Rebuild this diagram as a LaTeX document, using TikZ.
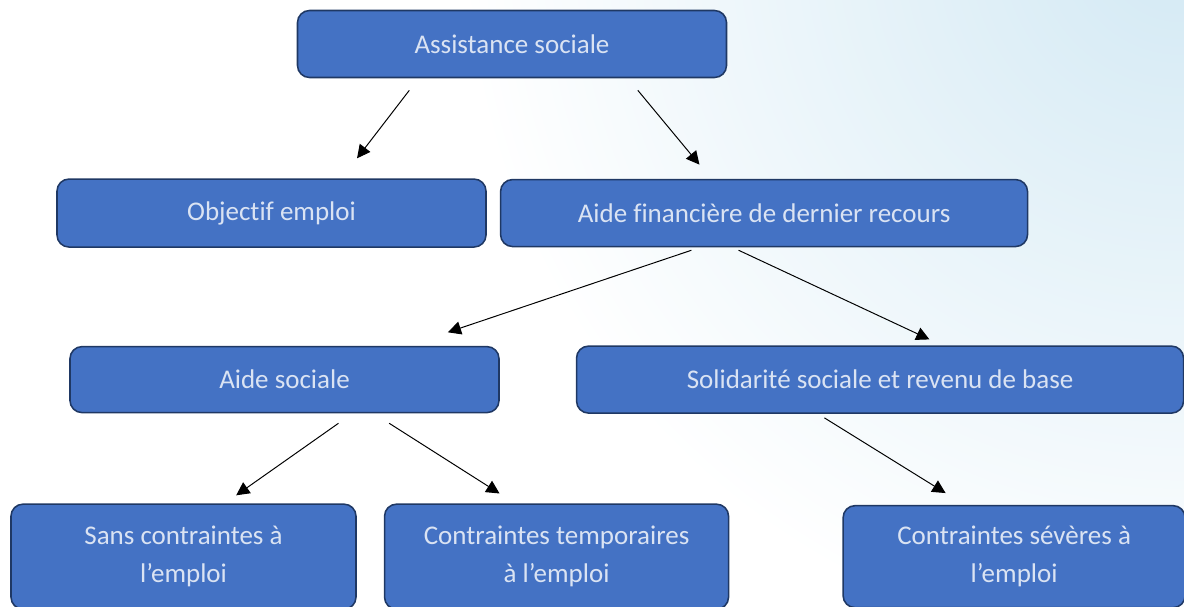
\documentclass[tikz,border=0pt]{standalone}
\usepackage{fontspec}
\setmainfont{Carlito}[Ligatures=CommonOff]
\usepackage{tikz}
\usetikzlibrary{arrows.meta,positioning,calc,backgrounds}

\definecolor{boxfill}{HTML}{4472C4}
\definecolor{boxdark}{HTML}{2A4A82}
\definecolor{boxline}{HTML}{1F3864}
\definecolor{boxtext}{HTML}{DAE3F3}
\definecolor{bgblue}{HTML}{D3E9F4}

% bevel: darker band along the lower edge
\pgfdeclareverticalshading{boxbevel}{100bp}{color(0bp)=(boxdark); color(20bp)=(boxfill); color(100bp)=(boxfill)}

\begin{document}
\begin{tikzpicture}[
    font=\fontsize{19.2}{27}\selectfont,
    % --- node styles ---
    box/.style = {rectangle, draw=boxline, line width=1.1pt,
                  rounded corners=0.3cm, shading=boxbevel,
                  text=boxtext, align=center, inner sep=2pt,
                  minimum width=10.725cm, minimum height=1.675cm},
    tallbox/.style = {box, minimum width=8.6cm, minimum height=2.625cm},
    arrow/.style = {-{Triangle[length=0.33cm, width=0.33cm]}, line width=0.7pt, black},
]

\useasboundingbox (0,0) rectangle (29.6,-15.15);

%============ BACKGROUND ============
\begin{scope}[on background layer]
  \clip (0,0) rectangle (29.6,-15.15);
  \shade[inner color=bgblue, outer color=white] (29.5,1.5) circle (18cm);
\end{scope}

%============ TOP ============
\node (root) [box] at (12.8,-1.1) {Assistance sociale};

%============ SECOND ROW ============
\node (obj) [box, minimum height=1.7cm, below=2.5cm of root, xshift=-6.0125cm]
  {Objectif emploi};
\node (afdr) [box, minimum width=13.175cm, right=0.325cm of obj]
  {Aide financière de dernier recours};

%============ THIRD ROW ============
\node (asoc) [box, minimum height=1.65cm, below=2.45cm of obj, xshift=0.325cm]
  {Aide sociale};
\node (ssrb) [box, minimum width=15.175cm, right=1.9cm of asoc]
  {Solidarité sociale et revenu de base};

%============ BOTTOM ROW ============
\node (sans) [tallbox, minimum width=8.625cm, below=2.25cm of asoc, xshift=-2.525cm]
  {Sans contraintes à\\l’emploi};
\node (temp) [tallbox, right=0.675cm of sans]
  {Contraintes temporaires\\à l’emploi};
\node (sev) [tallbox, minimum width=8.55cm, minimum height=2.55cm, right=2.825cm of temp]
  {Contraintes sévères à\\l’emploi};

%============ ARROWS ============
% from/fraction on its lower edge/to/fraction on its upper edge/gap at start/gap at end
\foreach \a/\fa/\b/\fb/\s/\e in {root/0.283/obj/0.663/0.38/0.63,
                                 root/0.769/afdr/0.400/0.39/0.46,
                                 afdr/0.379/asoc/0.786/0.23/1.06,
                                 afdr/0.440/ssrb/0.602/0.17/0.35,
                                 asoc/0.658/sans/0.619/0.43/0.35,
                                 asoc/0.707/temp/0.380/0.46/0.46,
                                 ssrb/0.398/sev/0.356/0.19/0.56}
  \draw[arrow, shorten <=\s cm, shorten >=\e cm]
    ($(\a.south west)!\fa!(\a.south east)$) -- ($(\b.north west)!\fb!(\b.north east)$);

\end{tikzpicture}
\end{document}
